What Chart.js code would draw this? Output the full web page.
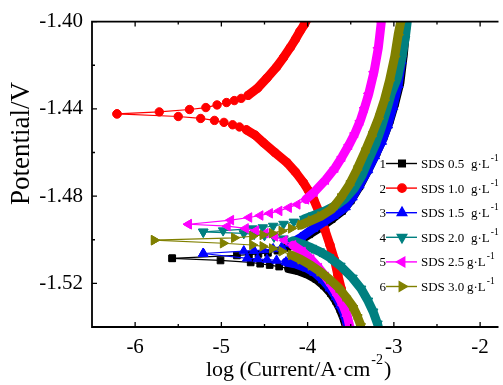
<!DOCTYPE html>
<html>
<head>
<meta charset="utf-8">
<script src="https://cdn.jsdelivr.net/npm/chart.js@4.4.0/dist/chart.umd.min.js"></script>
<style>
  html, body { margin: 0; padding: 0; background: #fff; }
  #wrap { width: 503px; height: 385px; }
</style>
</head>
<body>
<div id="wrap"><canvas id="tafel" width="503" height="385"></canvas></div>
<script>
// concentrations shown in the legend
const seriesLabels = ['SDS 0.5', 'SDS 1.0', 'SDS 1.5', 'SDS 2.0', 'SDS 2.5', 'SDS 3.0'];
const xTicks = [-6, -5, -4, -3, -2];
const yTicks = [-1.52, -1.48, -1.44, -1.40];
const xMinor = [-5.5, -4.5, -3.5, -2.5];
const yMinor = [-1.42, -1.46, -1.50];

// [log i, E], each branch starts at the corrosion potential
const sds05Cathodic = [[-5.57,-1.5085],[-5.01,-1.5095],[-4.66,-1.5104],[-4.55,-1.5110],[-4.44,-1.5116],[-4.33,-1.5123],[-4.22,-1.5132],[-4.10,-1.5143],[-4.00,-1.5158],[-3.90,-1.5180],[-3.81,-1.5210],[-3.73,-1.5245],[-3.67,-1.5281],[-3.62,-1.5320],[-3.58,-1.5360],[-3.55,-1.5400],[-3.53,-1.5430]];
const sds05Anodic = [[-5.57,-1.5085],[-4.82,-1.5072],[-4.68,-1.5068],[-4.57,-1.5065],[-4.46,-1.5060],[-4.35,-1.5050],[-4.24,-1.5035],[-4.12,-1.5010],[-3.98,-1.4975],[-3.85,-1.4942],[-3.72,-1.4905],[-3.60,-1.4868],[-3.50,-1.4820],[-3.40,-1.4755],[-3.30,-1.4680],[-3.20,-1.4600],[-3.12,-1.4530],[-3.05,-1.4455],[-2.99,-1.4375],[-2.93,-1.4280],[-2.89,-1.4150],[-2.86,-1.4020],[-2.85,-1.3960]];

const sds10Cathodic = [[-6.21,-1.4423],[-5.50,-1.4435],[-5.24,-1.4444],[-5.08,-1.4453],[-4.97,-1.4462],[-4.87,-1.4473],[-4.79,-1.4483],[-4.71,-1.4496],[-4.61,-1.4520],[-4.51,-1.4556],[-4.38,-1.4600],[-4.24,-1.4646],[-4.14,-1.4690],[-4.05,-1.4737],[-3.99,-1.4775],[-3.93,-1.4815],[-3.86,-1.4880],[-3.80,-1.4955],[-3.74,-1.5025],[-3.69,-1.5090],[-3.65,-1.5160],[-3.61,-1.5225],[-3.58,-1.5290],[-3.56,-1.5350],[-3.54,-1.5400],[-3.53,-1.5430]];
const sds10Anodic = [[-6.21,-1.4423],[-5.72,-1.4414],[-5.37,-1.4403],[-5.18,-1.4394],[-5.05,-1.4382],[-4.94,-1.4371],[-4.85,-1.4362],[-4.77,-1.4352],[-4.69,-1.4338],[-4.58,-1.4305],[-4.47,-1.4258],[-4.36,-1.4208],[-4.28,-1.4165],[-4.20,-1.4118],[-4.14,-1.4080],[-4.09,-1.4045],[-4.04,-1.4015],[-4.00,-1.3985]];

const sds15Cathodic = [[-5.21,-1.5063],[-4.70,-1.5085],[-4.58,-1.5088],[-4.47,-1.5091],[-4.36,-1.5095],[-4.25,-1.5102],[-4.13,-1.5112],[-4.01,-1.5130],[-3.92,-1.5150],[-3.82,-1.5185],[-3.74,-1.5222],[-3.67,-1.5262],[-3.62,-1.5300],[-3.57,-1.5345],[-3.54,-1.5390],[-3.52,-1.5430]];
const sds15Anodic = [[-5.21,-1.5063],[-4.74,-1.5052],[-4.62,-1.5050],[-4.51,-1.5047],[-4.40,-1.5042],[-4.30,-1.5034],[-4.20,-1.5018],[-4.08,-1.4990],[-3.94,-1.4950],[-3.82,-1.4920],[-3.70,-1.4890],[-3.56,-1.4850],[-3.48,-1.4805],[-3.40,-1.4750],[-3.30,-1.4680],[-3.22,-1.4616],[-3.14,-1.4550],[-3.07,-1.4475],[-3.01,-1.4390],[-2.95,-1.4290],[-2.91,-1.4180],[-2.88,-1.4060],[-2.86,-1.3960]];

const sds20Cathodic = [[-5.21,-1.4964],[-4.74,-1.4971],[-4.62,-1.4975],[-4.50,-1.4980],[-4.39,-1.4987],[-4.28,-1.4995],[-4.17,-1.5005],[-4.05,-1.5022],[-3.95,-1.5038],[-3.86,-1.5054],[-3.75,-1.5080],[-3.62,-1.5120],[-3.48,-1.5175],[-3.38,-1.5225],[-3.30,-1.5280],[-3.24,-1.5330],[-3.19,-1.5385],[-3.16,-1.5430]];
const sds20Anodic = [[-5.21,-1.4964],[-4.98,-1.4958],[-4.64,-1.4949],[-4.52,-1.4944],[-4.40,-1.4937],[-4.28,-1.4928],[-4.16,-1.4918],[-4.04,-1.4905],[-3.94,-1.4890],[-3.80,-1.4868],[-3.66,-1.4840],[-3.56,-1.4810],[-3.46,-1.4765],[-3.37,-1.4705],[-3.29,-1.4631],[-3.21,-1.4560],[-3.14,-1.4480],[-3.08,-1.4400],[-3.03,-1.4329],[-2.96,-1.4260],[-2.91,-1.4170],[-2.87,-1.4080],[-2.845,-1.4000],[-2.83,-1.3950]];

const sds25Cathodic = [[-5.38,-1.4929],[-4.93,-1.4938],[-4.72,-1.4948],[-4.60,-1.4958],[-4.49,-1.4970],[-4.38,-1.4985],[-4.27,-1.5003],[-4.17,-1.5025],[-4.06,-1.5055],[-3.96,-1.5090],[-3.87,-1.5130],[-3.79,-1.5170],[-3.72,-1.5210],[-3.65,-1.5255],[-3.59,-1.5300],[-3.54,-1.5350],[-3.51,-1.5400],[-3.49,-1.5430]];
const sds25Anodic = [[-5.38,-1.4929],[-4.89,-1.4910],[-4.68,-1.4898],[-4.55,-1.4889],[-4.44,-1.4879],[-4.33,-1.4868],[-4.22,-1.4853],[-4.12,-1.4838],[-4.02,-1.4815],[-3.92,-1.4780],[-3.79,-1.4725],[-3.68,-1.4670],[-3.60,-1.4620],[-3.52,-1.4565],[-3.45,-1.4511],[-3.39,-1.4455],[-3.34,-1.4395],[-3.29,-1.4329],[-3.23,-1.4230],[-3.18,-1.4120],[-3.145,-1.4000],[-3.13,-1.3950]];

const sds30Cathodic = [[-5.78,-1.5002],[-4.98,-1.5016],[-4.64,-1.5024],[-4.52,-1.5030],[-4.41,-1.5040],[-4.30,-1.5053],[-4.19,-1.5070],[-4.08,-1.5090],[-3.96,-1.5118],[-3.86,-1.5145],[-3.75,-1.5180],[-3.64,-1.5220],[-3.56,-1.5260],[-3.48,-1.5303],[-3.43,-1.5345],[-3.39,-1.5386],[-3.37,-1.5430]];
const sds30Anodic = [[-5.78,-1.5002],[-4.85,-1.4991],[-4.64,-1.4984],[-4.52,-1.4978],[-4.41,-1.4970],[-4.30,-1.4960],[-4.19,-1.4948],[-4.08,-1.4933],[-3.96,-1.4912],[-3.85,-1.4893],[-3.72,-1.4860],[-3.62,-1.4810],[-3.52,-1.4750],[-3.43,-1.4680],[-3.34,-1.4600],[-3.26,-1.4525],[-3.18,-1.4445],[-3.11,-1.4360],[-3.05,-1.4270],[-2.99,-1.4160],[-2.95,-1.4060],[-2.92,-1.4000],[-2.91,-1.3950]];

const branches = [
  [sds05Cathodic, sds05Anodic],
  [sds10Cathodic, sds10Anodic],
  [sds15Cathodic, sds15Anodic],
  [sds20Cathodic, sds20Anodic],
  [sds25Cathodic, sds25Anodic],
  [sds30Cathodic, sds30Anodic]
];

// styling
const colours = ['#000000', '#ff0000', '#0000ff', '#008080', '#ff00ff', '#808000'];
const markers = ['rect', 'circle', 'triangle', 'triangle', 'triangle', 'triangle'];
const markerRotation = [0, 0, 0, 180, 270, 90];
const markerRadius = [4.7, 4.2, 5.5, 5.5, 5.5, 5.5];
// point index where the markers pile up into a solid band [cathodic, anodic]
const bandStart = [[6, 6], [7, 8], [5, 6], [6, 7], [7, 8], [6, 7]];
const unitX = [471, 471, 471, 471, 467, 467];
const serif = '"Liberation Serif", "Times New Roman", serif';

const datasets = [];
branches.forEach((pair, i) => {
  pair.forEach((pts, b) => {
    const from = bandStart[i][b];
    datasets.push({
      label: seriesLabels[i],
      data: pts.map(p => ({ x: p[0], y: p[1] })),
      showLine: true,
      order: 6 - i,
      clip: 0,
      borderColor: colours[i],
      backgroundColor: colours[i],
      borderWidth: 1,
      borderJoinStyle: 'round',
      borderCapStyle: 'round',
      segment: {
        borderWidth: c => c.p0DataIndex >= from ? 9 : 1.2
      },
      pointStyle: markers[i],
      rotation: markerRotation[i],
      pointRadius: markerRadius[i],
      pointBorderWidth: 1,
      pointBackgroundColor: colours[i],
      pointBorderColor: colours[i]
    });
  });
});

const framePlugin = {
  id: 'frame',
  afterDatasetsDraw(chart) {
    const { ctx, chartArea: a, scales: { x, y } } = chart;
    ctx.save();
    ctx.strokeStyle = '#000';
    ctx.lineWidth = 1.8;
    ctx.beginPath();
    ctx.moveTo(a.right + 2, a.top);
    ctx.lineTo(a.left, a.top);
    ctx.lineTo(a.left, a.bottom);
    ctx.lineTo(a.right + 2, a.bottom);
    ctx.stroke();

    ctx.lineWidth = 1.3;
    ctx.beginPath();
    const tickX = (v, len) => {
      const px = x.getPixelForValue(v);
      ctx.moveTo(px, a.bottom); ctx.lineTo(px, a.bottom - len);
      ctx.moveTo(px, a.top); ctx.lineTo(px, a.top + len);
    };
    const tickY = (v, len) => {
      const py = y.getPixelForValue(v);
      ctx.moveTo(a.left, py); ctx.lineTo(a.left + len, py);
    };
    xTicks.forEach(v => tickX(v, 5));
    xMinor.forEach(v => tickX(v, 3));
    yTicks.forEach(v => tickY(v, 5));
    yMinor.forEach(v => tickY(v, 3));
    ctx.stroke();
    ctx.restore();
  },
  afterDraw(chart) {
    const c = chart.ctx;
    c.save();
    c.fillStyle = '#000';

    // x title with superscript
    c.font = '22px ' + serif;
    c.textAlign = 'left';
    c.textBaseline = 'alphabetic';
    const head = 'log (Current/A\u00b7cm';
    c.fillText(head, 206, 376);
    let w = c.measureText(head).width;
    c.font = '14px ' + serif;
    c.fillText('-2', 206 + w + 1, 364);
    const sw = c.measureText('-2').width;
    c.font = '22px ' + serif;
    c.fillText(')', 206 + w + sw + 2, 376);

    // y title
    c.save();
    c.translate(29, 143.5);
    c.rotate(-Math.PI / 2);
    c.textAlign = 'center';
    c.font = '27px ' + serif;
    c.fillText('Potential/V', 0, 0);
    c.restore();

    // legend
    seriesLabels.forEach((name, i) => {
      const yy = 163.5 + i * 24.6;
      c.strokeStyle = colours[i];
      c.fillStyle = colours[i];
      c.lineWidth = 1.4;
      c.beginPath();
      c.moveTo(386, yy); c.lineTo(417, yy);
      c.stroke();
      Chart.helpers.drawPoint(c, {
        pointStyle: markers[i], rotation: markerRotation[i],
        radius: markerRadius[i], borderWidth: 1
      }, 402, yy);
      c.fillStyle = '#000';
      c.textBaseline = 'middle';
      c.font = '13px ' + serif;
      c.textAlign = 'right';
      c.fillText(String(i + 1), 386, yy + 1);
      c.textAlign = 'left';
      c.fillText(name, 421, yy + 1);
      c.fillText('g\u00b7L', unitX[i], yy + 1);
      const uw = c.measureText('g\u00b7L').width;
      c.font = '9.5px ' + serif;
      c.fillText('-1', unitX[i] + uw + 1, yy - 5);
    });
    c.restore();
  }
};

new Chart(document.getElementById('tafel'), {
  type: 'scatter',
  data: { datasets },
  options: {
    responsive: false,
    devicePixelRatio: 1,
    animation: false,
    events: [],
    layout: { padding: { top: 17, right: 0, bottom: 0, left: 0 } },
    plugins: { legend: { display: false }, tooltip: { enabled: false } },
    scales: {
      x: {
        type: 'linear',
        min: -6.5,
        max: -1.81,
        grid: { display: false, drawTicks: false },
        border: { display: false },
        afterBuildTicks: s => { s.ticks = xTicks.map(v => ({ value: v })); },
        afterFit: s => { s.height = 58; },
        ticks: {
          autoSkip: false, maxRotation: 0, padding: 8, color: '#000',
          font: { family: serif, size: 21 },
          callback: v => String(v)
        }
      },
      y: {
        type: 'linear',
        min: -1.54,
        max: -1.40,
        grid: { display: false, drawTicks: false },
        border: { display: false },
        afterBuildTicks: s => { s.ticks = yTicks.map(v => ({ value: v })); },
        afterFit: s => { s.width = 92; },
        ticks: {
          autoSkip: false, padding: 9, color: '#000',
          font: { family: serif, size: 21 },
          callback: v => v.toFixed(2)
        }
      }
    }
  },
  plugins: [framePlugin]
});
</script>
</body>
</html>
